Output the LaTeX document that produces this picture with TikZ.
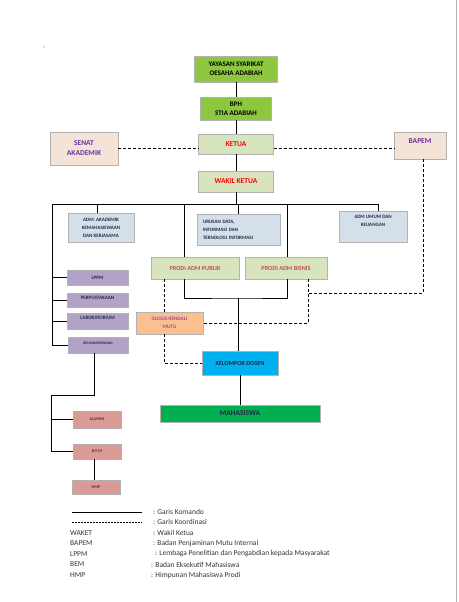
\documentclass[tikz,border=0pt]{standalone}
\usepackage{fontspec}
\setmainfont{Carlito}
\usepackage{tikz}
\usetikzlibrary{positioning, calc, shadows}
\usepackage{xcolor}
\definecolor{hijauTua}{HTML}{8DC63F}
\definecolor{hijauMuda}{HTML}{D7E4BD}
\definecolor{krem}{HTML}{F4E3D7}
\definecolor{biruAbu}{HTML}{D5DFEA}
\definecolor{ungu}{HTML}{B3A2C7}
\definecolor{oranye}{HTML}{FAC090}
\definecolor{biruLaut}{HTML}{00B0F0}
\definecolor{hijauMhs}{HTML}{00B050}
\definecolor{merahMuda}{HTML}{DA9A98}
\definecolor{teksMerah}{HTML}{FF0000}
\definecolor{teksProdi}{HTML}{C0504D}
\definecolor{teksUngu}{HTML}{7030A0}
\definecolor{teksGugus}{HTML}{9E4A8F}
\definecolor{teksGelap}{HTML}{1F2A44}
\definecolor{teksMaroon}{HTML}{632523}

\begin{document}
\begin{tikzpicture}[x=1pt, y=-1pt,
      kotak/.style={rectangle, draw=black!30, line width=0.4pt, inner sep=1pt, align=center,
        drop shadow={shadow xshift=1.8pt, shadow yshift=-1.8pt, opacity=0.3, fill=black!60},
        preaction={draw=white, line width=3pt}},
      besar/.style={kotak, font=\fontsize{7}{9}\selectfont\bfseries},
      kecil/.style={kotak, font=\fontsize{5}{8}\selectfont\bfseries},
      garis/.style={line width=0.9pt},
      putus/.style={line width=0.8pt, dash pattern=on 3pt off 2pt}
    ]
      \useasboundingbox (0,0) rectangle (458,602);
      \draw[gray!60, line width=1pt] (456.5,0) -- (456.5,602);
      \node[font=\fontsize{5}{6}\selectfont] (titik) at (44,47) {:};

      % pimpinan
      \node[besar, fill=hijauTua, minimum width=83pt, minimum height=26pt] (yay) at (236,69) {YAYASAN SYARIKAT\\OESAHA ADABIAH};
      \node[besar, fill=hijauTua, minimum width=71pt, minimum height=23pt] (bph) at (236,108.5) {BPH\\STIA ADABIAH};
      \node[besar, fill=hijauMuda, text=teksMerah, minimum width=75pt, minimum height=20pt, font=\fontsize{7.5}{9}\selectfont\bfseries] (ketua) at (236,144) {KETUA};
      \node[besar, fill=krem, text=teksUngu, minimum width=68pt, minimum height=33pt, font=\fontsize{7.5}{10}\selectfont\bfseries] (senat) at (84,148.5) {SENAT\\AKADEMIK};
      \node[besar, fill=krem, text=teksUngu, minimum width=52pt, minimum height=27pt, text depth=9pt, font=\fontsize{7.5}{9}\selectfont\bfseries] (bapem) at (420,145.5) {BAPEM};
      \node[besar, fill=hijauMuda, text=teksMerah, minimum width=75pt, minimum height=21pt, font=\fontsize{7.5}{9}\selectfont\bfseries] (waket) at (236,181.5) {WAKIL KETUA};

      % unit
      \node[kecil, fill=biruAbu, text=teksGelap, minimum width=66pt, minimum height=29pt] (admak) at (101,227.5) {ADM. AKADEMIK\\KEMAHASISWAAN\\DAN KERJASAMA};
      \node[kecil, fill=biruAbu, text=teksGelap, minimum width=83pt, minimum height=31pt, text width=71pt, align=left] (urusan) at (238.5,229.5) {URUSAN DATA,\\INFORMASI DAN\\TEKNOLOGI INFORMASI};
      \node[kecil, fill=biruAbu, text=teksGelap, minimum width=68pt, minimum height=31pt, text depth=12pt] (admum) at (373,226.5) {ADM UMUM DAN\\KEUANGAN};
      \node[kotak, fill=hijauMuda, text=teksProdi, minimum width=88pt, minimum height=22pt, font=\fontsize{6.2}{8}\selectfont\bfseries] (publik) at (195,268) {PRODI ADM PUBLIK};
      \node[kotak, fill=hijauMuda, text=teksProdi, minimum width=82pt, minimum height=22pt, font=\fontsize{6.2}{8}\selectfont\bfseries] (bisnis) at (286,268) {PRODI ADM BISNIS};

      \node[kecil, fill=ungu, text=teksGelap, minimum width=61pt, minimum height=15pt] (lppm) at (97.5,277.5) {LPPM};
      \node[kecil, fill=ungu, text=teksGelap, minimum width=61pt, minimum height=14pt, text depth=5pt] (perpus) at (97.5,300) {PERPUSTAKAAN};
      \node[kecil, fill=ungu, text=teksGelap, minimum width=61pt, minimum height=16pt, text depth=7pt] (lab) at (97.5,321) {LABORATORIUM};
      \node[kecil, fill=ungu, text=teksGelap, minimum width=60pt, minimum height=16pt, text depth=4pt, font=\fontsize{3.8}{6}\selectfont\bfseries] (kemhs) at (98,345) {KEMAHASISWAAN};
      \node[kotak, fill=oranye, text=teksGugus, minimum width=67pt, minimum height=22pt, font=\fontsize{5.2}{8}\selectfont\bfseries] (gugus) at (169.5,323) {GUGUS KENDALI\\MUTU};
      \node[kotak, fill=biruLaut, text=teksGelap, minimum width=76pt, minimum height=24pt, font=\fontsize{6.2}{8}\selectfont\bfseries] (dosen) at (240,363) {KELOMPOK DOSEN};
      \node[kotak, fill=hijauMhs, text=teksGelap, minimum width=160pt, minimum height=17pt, font=\fontsize{7.5}{9}\selectfont\bfseries] (mhs) at (240,413.5) {MAHASISWA};

      \node[kecil, fill=merahMuda, text=teksMaroon, minimum width=48pt, minimum height=17pt, font=\fontsize{4.2}{6}\selectfont\bfseries] (alumni) at (97,419.5) {ALUMNI};
      \node[kecil, fill=merahMuda, text=teksMaroon, minimum width=48pt, minimum height=15pt, font=\fontsize{4.2}{6}\selectfont\bfseries] (bem) at (97,451.5) {B E M};
      \node[kecil, fill=merahMuda, text=teksMaroon, minimum width=48pt, minimum height=14pt, font=\fontsize{4.2}{6}\selectfont\bfseries] (hmp) at (96,487) {HMP};

      % garis komando
      \coordinate (busL) at (52,204);
      \coordinate (busR) at (378,204);
      \draw[garis] (yay) -- (bph);
      \draw[garis] (bph) -- (ketua);
      \draw[garis] (ketua) -- (waket);
      \draw[garis] (waket.south) -- (waket.south |- busL);
      \draw[garis] (busL) -- (busR);
      \draw[garis] ([xshift=-4pt]admak.north |- busL) -- ([xshift=-4pt]admak.north);
      \draw[garis] ([xshift=-11pt]publik.north |- busL) -- ([xshift=-11pt]publik.north);
      \draw[garis] (urusan.north |- busL) -- (urusan.north);
      \draw[garis] ([xshift=1pt]bisnis.north |- busL) -- ([xshift=1pt]bisnis.north);
      \draw[garis] (busR) -- (busR |- admum.north);
      \draw[garis] (busL) |- (kemhs.west);
      \draw[garis] (busL |- lppm) -- (lppm.west);
      \draw[garis] (busL |- perpus) -- (perpus.west);
      \draw[garis] (busL |- lab) -- (lab.west);
      \coordinate (prodiBawah) at (238,298);
      \draw[garis] ([xshift=-11pt]publik.south) |- (prodiBawah) -| ([xshift=1pt]bisnis.south);
      \draw[garis] (prodiBawah) -- (prodiBawah |- dosen.north);
      \draw[garis] (dosen) -- (mhs);
      \coordinate (kemBelok) at (51,395);
      \draw[garis] ([xshift=-4pt]kemhs.south) |- (kemBelok) |- (bem.west);
      \draw[garis] (kemBelok |- alumni) -- (alumni.west);
      \draw[garis] ([xshift=-3pt]bem.south) -- ([xshift=-3pt]bem.south |- hmp.north);

      % garis koordinasi
      \draw[putus] (senat.east) -- (senat.east -| ketua.west);
      \draw[putus] (ketua.east |- senat) -- (bapem.west |- senat);
      \draw[putus] ([xshift=-31pt]publik.south) -- ([xshift=-31pt]publik.south |- gugus.north);
      \draw[putus] ([xshift=-5.5pt]gugus.south) |- (dosen.west);
      \draw[putus] ([xshift=22pt]bisnis.south) |- (gugus.east);
      \coordinate (bapemBelok) at (308,293);
      \draw[putus] ([xshift=3pt]bapem.south) |- (bapemBelok);

      % keterangan
      \coordinate (kom1) at (72,512);
      \coordinate (kom2) at (142,512);
      \coordinate (kor1) at (72,522);
      \coordinate (kor2) at (142,522);
      \draw[line width=0.8pt] (kom1) -- (kom2);
      \draw[line width=0.6pt, dash pattern=on 2pt off 1pt] (kor1) -- (kor2);
      \begin{scope}[every node/.style={anchor=west, inner sep=0pt, font=\fontsize{7.5}{9}\selectfont, text=black!80}]
        \node (kKom) at (153,512) {: Garis Komando};
        \node (kKor) at (153,522) {: Garis Koordinasi};
        \node (sWaket) at (70,533) {WAKET};
        \node (kWaket) at (153,533) {: Wakil Ketua};
        \node (sBapem) at (70,543.5) {BAPEM};
        \node (kBapem) at (153,543.5) {: Badan Penjaminan Mutu Internal};
        \node (sLppm) at (70,554) {LPPM};
        \node (kLppm) at (155,554) {: Lembaga Penelitian dan Pengabdian kepada Masyarakat};
        \node (sBem) at (70,564.5) {BEM};
        \node (kBem) at (151,564.5) {: Badan Eksekutif Mahasiswa};
        \node (sHmp) at (70,575) {HMP};
        \node (kHmp) at (151,575) {: Himpunan Mahasiswa Prodi};
      \end{scope}
    \end{tikzpicture}
\end{document}
